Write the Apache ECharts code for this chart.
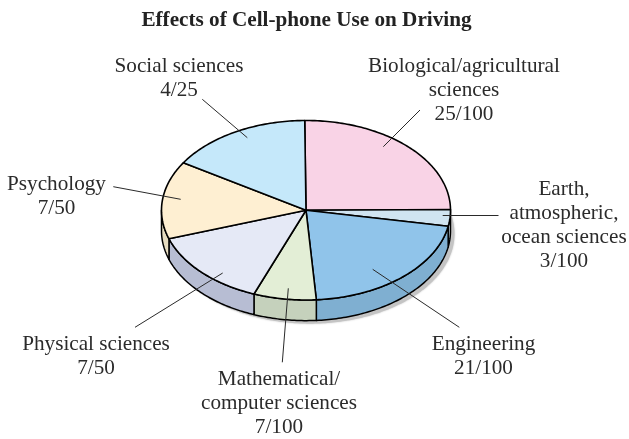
<!DOCTYPE html>
<html><head><meta charset="utf-8">
<style>html,body{margin:0;padding:0;background:#fff}#c{width:629px;height:439px}</style>
<script src="https://cdn.jsdelivr.net/npm/echarts@6/dist/echarts.min.js"></script>
</head><body><div id="c"></div>
<script>
const titleText = 'Effects of Cell-phone Use on Driving';
const categories = ['Biological/agricultural\nsciences','Earth,\natmospheric,\nocean sciences','Engineering','Mathematical/\ncomputer sciences','Physical sciences','Psychology','Social sciences'];
const fractions = ['25/100','3/100','21/100','7/100','7/50','7/50','4/25'];
const values = [25,3,21,7,14,14,16];
const topColors = ['#F9D3E6','#D0E4F1','#90C4EA','#E3EED6','#E5E9F6','#FEEFD2','#C5E8FA'];
const sideColors = ['#E0BECF','#BBCDD9','#7FAFD1','#C5D1BC','#B7BDD3','#E6DCC0','#B0D0E0'];

const total = values.reduce((a,b)=>a+b,0);
const START = -90.5, DEPTH = 0.23;
const angles = [START];
values.forEach(v=>angles.push(angles[angles.length-1]+v/total*360));

function pt(api,deg,off){const r=deg*Math.PI/180;return api.coord([Math.cos(r),-Math.sin(r)-(off||0)]);}
function arc(api,a0,a1,off){const n=Math.max(2,Math.ceil(Math.abs(a1-a0)));const p=[];for(let i=0;i<=n;i++)p.push(pt(api,a0+(a1-a0)*i/n,off));return p;}

function renderShadow(params,api){
  const p=arc(api,-20,200,DEPTH).map(q=>[q[0]+4,q[1]+3]);
  return {type:'polygon',shape:{points:p},style:{fill:'#c4c4c4',shadowBlur:2,shadowColor:'#c4c4c4'},silent:true};
}
function renderWall(params,api){
  const i=api.value(0);
  const a0=Math.max(angles[i],0), a1=Math.min(angles[i+1],180);
  if(a1<=a0) return null;
  const p=arc(api,a0,a1,0).concat(arc(api,a1,a0,DEPTH));
  return {type:'polygon',shape:{points:p},style:{fill:sideColors[i],stroke:'#000',lineWidth:1.5,lineJoin:'round'},silent:true};
}
function renderTop(params,api){
  const i=api.value(0);
  const p=[api.coord([0,0])].concat(arc(api,angles[i],angles[i+1],0));
  return {type:'polygon',shape:{points:p},style:{fill:topColors[i],stroke:'#000',lineWidth:1.6,lineJoin:'round'},silent:true};
}
const idx = values.map((v,i)=>[i,v]);
const common = {type:'custom',coordinateSystem:'cartesian2d',clip:false,animation:false,silent:true,encode:{x:0,y:1}};

function label(i,x,y){
  return {type:'text',silent:true,z:20,x:x,y:y,style:{text:categories[i]+'\n'+fractions[i],font:'21.2px "Liberation Serif"',fill:'#2b2b2b',align:'center',verticalAlign:'middle',lineHeight:24}};
}
function leader(x1,y1,x2,y2){
  return {type:'line',silent:true,z:15,shape:{x1,y1,x2,y2},style:{stroke:'#2a2a2a',lineWidth:1}};
}
const chart = echarts.init(document.getElementById('c'),null,{renderer:'canvas'});
chart.setOption({
  animation:false,
  backgroundColor:'#fff',
  title:{text:titleText,left:301.5,top:5,textAlign:'center',textStyle:{fontFamily:'Liberation Serif',fontWeight:'bold',fontSize:21.2,color:'#222'}},
  grid:{left:161.5,width:289,top:120.5,height:179.5},
  xAxis:{type:'value',min:-1,max:1,show:false},
  yAxis:{type:'value',min:-1,max:1,show:false},
  series:[
    Object.assign({},common,{renderItem:renderShadow,data:[idx[0]],z:1}),
    Object.assign({},common,{renderItem:renderWall,data:idx,z:2}),
    Object.assign({},common,{renderItem:renderTop,data:idx,z:3})
  ],
  graphic:[
    leader(420,110,383.3,146.7),
    leader(442.7,215.5,498.5,215.5),
    leader(459.3,327.3,372.7,269.3),
    leader(282.3,362.3,288.3,288.3),
    leader(135,327.3,222.7,273),
    leader(113.3,186.7,180.7,199.3),
    leader(202.3,99.3,247.3,137.7),
    label(0,464,90),
    label(1,564,225),
    label(2,483.5,356),
    label(3,279,403),
    label(4,96,356),
    label(5,56.5,196),
    label(6,179,78)
  ]
});
</script></body></html>
